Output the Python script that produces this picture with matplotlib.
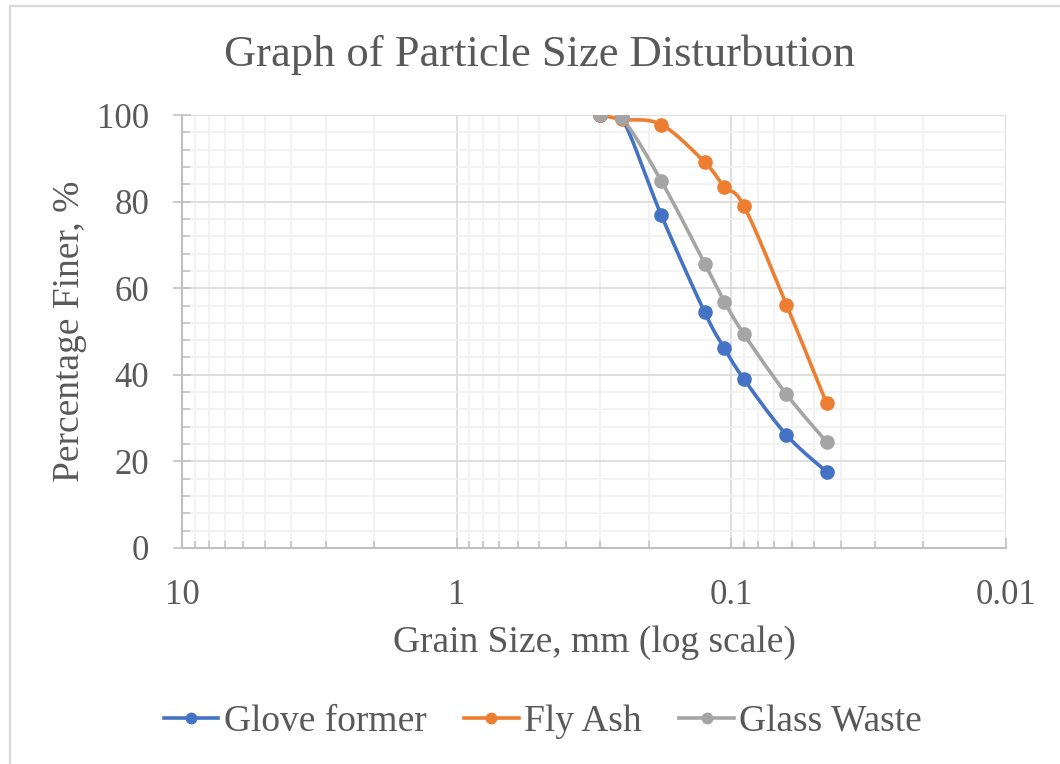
import numpy as np
import matplotlib
matplotlib.use("Agg")
import matplotlib.pyplot as plt
from matplotlib.patches import Rectangle
from matplotlib.ticker import LogLocator, FuncFormatter, MultipleLocator, NullFormatter

# sieve sizes (mm) and percentage finer
grain_size = [0.3, 0.25, 0.18, 0.125, 0.106, 0.09, 0.063, 0.045]
glove_former = [100, 99.2, 76.9, 54.4, 46.1, 39.0, 26.1, 17.6]
fly_ash = [100, 99.0, 97.8, 89.1, 83.4, 79.0, 56.2, 33.4]
glass_waste = [100, 99.2, 84.8, 65.7, 56.9, 49.4, 35.5, 24.5]

series_names = ["Glove former", "Fly Ash", "Glass Waste"]
series_colors = ["#4472C4", "#ED7D31", "#A5A5A5"]

TEXT = "#595959"
plt.rcParams["font.family"] = ["Liberation Serif", "DejaVu Serif"]


def smooth(x, y, n=30):
    # Excel-like smoothed line: Catmull-Rom bezier done in screen-ish space
    u = -np.log10(np.asarray(x, float)) * 274.6
    v = np.asarray(y, float) * 4.333
    pts = np.column_stack([u, v])
    p = np.vstack([pts[0], pts, pts[-1]])
    out = []
    for i in range(1, len(p) - 2):
        p0, p1, p2, p3 = p[i - 1], p[i], p[i + 1], p[i + 2]
        c1 = p1 + (p2 - p0) / 6
        c2 = p2 - (p3 - p1) / 6
        t = np.linspace(0, 1, n)[:, None]
        seg = ((1 - t) ** 3) * p1 + 3 * ((1 - t) ** 2) * t * c1 + 3 * (1 - t) * t ** 2 * c2 + t ** 3 * p2
        out.append(seg if i == 1 else seg[1:])
    out = np.vstack(out)
    return 10 ** (-out[:, 0] / 274.6), out[:, 1] / 4.333


fig = plt.figure(figsize=(10.6, 7.64), dpi=100)
ax = fig.add_axes([182 / 1060, 1 - 548 / 764, (1006 - 182) / 1060, (548 - 115) / 764])

ax.set_xscale("log")
ax.set_xlim(10, 0.01)
ax.set_ylim(0, 100)

for name, vals, col in zip(series_names, [glove_former, fly_ash, glass_waste], series_colors):
    sx, sy = smooth(grain_size, vals)
    ax.plot(sx, sy, color=col, lw=2.6, solid_capstyle="round", zorder=3)
    ax.plot(grain_size, vals, "o", color=col, ms=9.5, zorder=4)
    ax.plot([], [], color=col, lw=2.6, marker="o", ms=7.5, label=name)

ax.xaxis.set_major_locator(LogLocator(base=10, numticks=10))
ax.xaxis.set_minor_locator(LogLocator(base=10, subs=np.arange(2, 10), numticks=10))
ax.xaxis.set_major_formatter(FuncFormatter(lambda v, p: f"{v:g}"))
ax.xaxis.set_minor_formatter(NullFormatter())
ax.yaxis.set_major_locator(MultipleLocator(20))
ax.yaxis.set_minor_locator(MultipleLocator(4))

ax.grid(which="major", color="#d9d9d9", lw=1.2)
ax.grid(which="minor", color="#f0f0f0", lw=1.2)
ax.set_axisbelow(True)

for s in ["top", "right"]:
    ax.spines[s].set_visible(False)
for s in ["left", "bottom"]:
    ax.spines[s].set_color("#bfbfbf")
    ax.spines[s].set_linewidth(1.5)

ax.tick_params(axis="x", which="major", direction="in", length=7, width=1.1, color="#bfbfbf",
               labelsize=25, labelcolor=TEXT, pad=22)
ax.tick_params(axis="x", which="minor", direction="in", length=5, width=1.1, color="#bfbfbf")
ax.tick_params(axis="y", which="major", direction="inout", length=13, width=1.1, color="#bfbfbf",
               labelsize=25, labelcolor=TEXT, pad=17)
ax.tick_params(axis="y", which="minor", direction="in", length=5.5, width=1.1, color="#bfbfbf")

ax.text(-0.136, 0.5, "Percentage Finer, %", transform=ax.transAxes, rotation=90,
        ha="center", va="center", fontsize=27, color=TEXT)
ax.text(0.5, -(643 - 548) / 433, "Grain Size, mm (log scale)", transform=ax.transAxes,
        ha="center", va="center", fontsize=27, color=TEXT)
fig.text(539 / 1060, 1 - 55 / 764, "Graph of Particle Size Disturbution",
         ha="center", va="center", fontsize=32, color=TEXT)

fig.legend(loc="center", bbox_to_anchor=(543 / 1060, 1 - 722 / 764), ncol=3, frameon=False,
           fontsize=27, labelcolor=TEXT, handlelength=1.45, handletextpad=0.15,
           columnspacing=1.0, borderaxespad=0)

# chart area border
fig.add_artist(Rectangle((10 / 1060, -0.1), 1.2, 1.1 - 6 / 764, transform=fig.transFigure,
                         fill=False, edgecolor="#d9d9d9", lw=1.6))

fig.savefig("out.png", dpi=100)
